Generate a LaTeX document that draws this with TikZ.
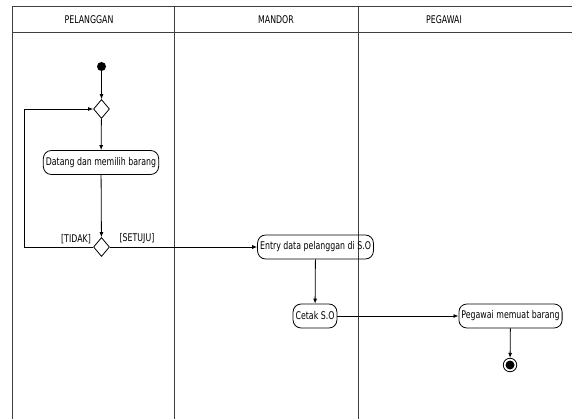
\documentclass[tikz,border=0pt]{standalone}
\usepackage{fontspec}
\setmainfont{DejaVu Sans}[FakeStretch=0.74]
\usetikzlibrary{arrows.meta,shapes.geometric}
\begin{document}
\begin{tikzpicture}[x=1pt,y=-1pt,
  lane/.style={draw=black!75,line width=1pt},
  act/.style={draw,line width=0.8pt,rounded corners=8pt,minimum height=24pt,inner xsep=2.5pt,inner ysep=2pt,font=\fontsize{10.6}{12}\selectfont},
  decision/.style={draw,line width=0.8pt,diamond,minimum width=16pt,minimum height=19pt,inner sep=0pt},
  lbl/.style={font=\fontsize{10.6}{12}\selectfont},
  flow/.style={line width=0.8pt,-{Latex[length=5pt,width=4pt]}},
  plain/.style={line width=0.8pt}]
\useasboundingbox (0,0) rectangle (572,419);
\fill[white] (0,0) rectangle (572,419);

% swimlanes
\draw[lane] (572,7) -- (12,7) -- (12,419);
\draw[lane] (12,33) -- (572,33);
\draw[lane] (174,7) -- (174,419);
\draw[lane] (358,7) -- (358,419);
\node[lbl] (hP) at (89,20) {PELANGGAN};
\node[lbl] (hM) at (276,20) {MANDOR};
\node[lbl] (hG) at (444,20) {PEGAWAI};

% nodes
\node[circle,fill=black,inner sep=0pt,minimum size=9pt] (start) at (101.5,66.5) {};
\node[decision] (d1) at (101.5,109) {};
\node[act] (datang) at (101,162.5) {Datang dan memilih barang};
\node[decision] (d2) at (101.5,247) {};
\node[act] (entry) at (315.5,247) {Entry data pelanggan di S.O};
\node[act] (cetak) at (315,316) {Cetak S.O};
\node[act] (muat) at (510.5,316) {Pegawai memuat barang};
\node[circle,draw,line width=0.8pt,minimum size=13.5pt,inner sep=0pt] (end) at (510,365) {};
\fill (end.center) circle (4.5pt);

% guard labels
\node[lbl] (tidak) at (76,239) {[TIDAK]};
\node[lbl] (setuju) at (137,239) {[SETUJU]};

% flows
\draw[flow] (start) -- (d1);
\draw[flow] (d1) -- (datang);
\draw[flow] (datang) -- (d2);
\coordinate (lb) at (24,247);
\coordinate (lt) at (24,109);
\draw[flow] (d2.west) -- (lb) -- (lt) -- (d1.west);
\draw[flow] (d2.east) -- (entry.west);
\draw[flow] (entry) -- (cetak);
\draw[flow] (cetak.east) -- (muat.west);
\draw[flow] (muat) -- (end);
\end{tikzpicture}
\end{document}
